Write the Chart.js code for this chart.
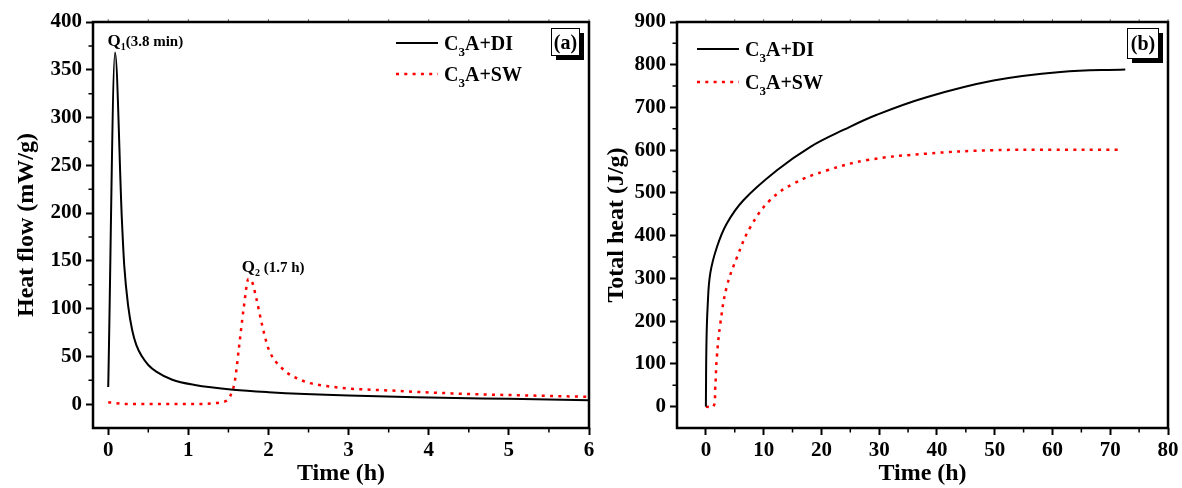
<!DOCTYPE html>
<html>
<head>
<meta charset="utf-8">
<script src="https://cdn.jsdelivr.net/npm/chart.js@4.4.1/dist/chart.umd.min.js"></script>
<style>
  body { margin: 0; background: #fff; width: 1182px; height: 488px; overflow: hidden; position: relative; }
  canvas { position: absolute; top: 0; }
  #chartA { left: 0; }
  #chartB { left: 590px; }
</style>
</head>
<body>
<canvas id="chartA" width="610" height="488"></canvas>
<canvas id="chartB" width="592" height="488"></canvas>
<script>
// panel (a): heat flow (mW/g) against time (h)
const flowTimeDI = [0, 0.085, 0.17, 0.2, 0.25, 0.3, 0.35, 0.42, 0.5, 0.6, 0.8, 1.08, 1.56, 2.0, 3.0, 4.0, 5.0, 6.0];
const flowDI     = [18, 368, 194, 145, 102, 77, 62, 50, 41, 34, 25.5, 20, 15, 12.5, 9, 7, 5.5, 4];
const flowTimeSW = [0, 0.25, 1.0, 1.42, 1.52, 1.58, 1.63, 1.69, 1.75, 1.79, 1.85, 1.92, 2.0, 2.17, 2.41, 2.77, 3.6, 4.43, 5.26, 6.0];
const flowSW     = [2, 0, 0, 2, 8, 24, 58, 100, 131, 129, 110, 83, 58, 37.5, 25, 18.4, 13.9, 10.8, 9, 7.6];

// panel (b): total heat (J/g) against time (h)
const heatTimeDI = [0, 0.1, 0.3, 0.75, 1.9, 3.6, 6.5, 12.3, 18.1, 23.9, 29.6, 38.2, 49.8, 61.4, 72.6];
const heatDI     = [0, 150, 233, 311, 373, 428, 483, 553, 608, 648, 683, 724, 763, 783, 789];
const heatTimeSW = [0, 1.3, 1.6, 1.9, 2.5, 3.6, 5.4, 7.7, 11.1, 15.2, 21, 28, 38.2, 49.8, 60, 71.4];
const heatSW     = [0, 0, 40, 116, 194, 280, 350, 420, 483, 522, 553, 577, 592, 600, 601, 601];

// ticks
const xTicksA = [0, 1, 2, 3, 4, 5, 6];
const xMinorA = [0.5, 1.5, 2.5, 3.5, 4.5, 5.5];
const yTicksA = [0, 50, 100, 150, 200, 250, 300, 350, 400];
const yMinorA = [25, 75, 125, 175, 225, 275, 325, 375];
const xTicksB = [0, 10, 20, 30, 40, 50, 60, 70, 80];
const xMinorB = [5, 15, 25, 35, 45, 55, 65, 75];
const yTicksB = [0, 100, 200, 300, 400, 500, 600, 700, 800, 900];
const yMinorB = [50, 150, 250, 350, 450, 550, 650, 750, 850];

const seriesNames = ['C3A+DI', 'C3A+SW'];

const SERIF = "'Liberation Serif', 'Times New Roman', serif";
const pts = (xs, ys) => xs.map((x, i) => ({ x, y: ys[i] }));

// draw text with a subscript, e.g. C3A
function subText(ctx, x, y, parts) {
  parts.forEach(([txt, size, dy]) => {
    ctx.font = `bold ${size}px ${SERIF}`;
    ctx.fillText(txt, x, y + dy);
    x += ctx.measureText(txt).width;
  });
}

const deco = {
  id: 'deco',
  afterDraw(chart, args, o) {
    const { ctx, chartArea: a, scales: { x, y } } = chart;
    ctx.save();
    ctx.strokeStyle = '#000';
    ctx.fillStyle = '#000';

    // minor ticks outside bottom / left, small ticks on top
    ctx.lineWidth = 1.5;
    ctx.beginPath();
    o.xMinor.forEach(v => {
      const p = x.getPixelForValue(v);
      ctx.moveTo(p, a.bottom); ctx.lineTo(p, a.bottom + 4.5);
    });
    o.yMinor.forEach(v => {
      const p = y.getPixelForValue(v);
      ctx.moveTo(a.left, p); ctx.lineTo(a.left - 4.5, p);
    });
    ctx.stroke();
    ctx.strokeStyle = '#777';
    ctx.lineWidth = 1;
    ctx.beginPath();
    o.xMinor.concat(o.xMajor).forEach(v => {
      const p = x.getPixelForValue(v);
      ctx.moveTo(p, a.top); ctx.lineTo(p, a.top - 3);
    });
    ctx.stroke();

    // frame
    ctx.strokeStyle = '#000';
    ctx.lineWidth = 2.5;
    ctx.strokeRect(a.left, a.top, a.right - a.left, a.bottom - a.top);

    // legend
    ctx.textBaseline = 'alphabetic';
    ctx.textAlign = 'left';
    o.legend.rows.forEach((r, i) => {
      const ly = o.legend.y + i * o.legend.gap;
      ctx.save();
      ctx.lineWidth = i === 0 ? 2 : 2.5;
      ctx.strokeStyle = i === 0 ? '#000' : '#ff0000';
      ctx.setLineDash(i === 0 ? [] : [3, 5.3]);
      ctx.beginPath();
      ctx.moveTo(o.legend.x, ly);
      ctx.lineTo(o.legend.x + 42, ly);
      ctx.stroke();
      ctx.restore();
      ctx.fillStyle = '#000';
      subText(ctx, o.legend.x + 48, ly + 7, [['C', 20, 0], ['3', 13, 6], [r, 20, 0]]);
    });

    // panel label box with shadow
    const bx = a.right - o.box.dr, by = a.top + 6;
    ctx.fillStyle = '#000';
    ctx.fillRect(bx + 5, by + 5, o.box.w, o.box.h);
    ctx.fillStyle = '#fff';
    ctx.fillRect(bx, by, o.box.w, o.box.h);
    ctx.lineWidth = 1;
    ctx.strokeStyle = '#000';
    ctx.strokeRect(bx + 0.5, by + 0.5, o.box.w, o.box.h);
    ctx.fillStyle = '#000';
    ctx.font = `bold 20px ${SERIF}`;
    ctx.textAlign = 'center';
    ctx.fillText(o.box.text, bx + o.box.w / 2 + 0.5, by + o.box.h / 2 + 7);

    // peak notes
    ctx.textAlign = 'left';
    (o.notes || []).forEach(n => {
      subText(ctx, x.getPixelForValue(n.x), y.getPixelForValue(n.y),
        [['Q', 17, 0], [n.sub, 10, 4], [n.text, 15, 0]]);
    });
    ctx.restore();
  }
};

function axis(min, max, ticks, title, isX, titlePad, fitSize) {
  return {
    type: 'linear',
    min, max,
    afterBuildTicks: s => { s.ticks = ticks.map(v => ({ value: v })); },
    afterFit: s => { if (isX) s.height = fitSize; else s.width = fitSize; },
    grid: { display: true, drawOnChartArea: false, drawTicks: true, tickLength: 7, tickWidth: 2, tickColor: '#000', color: '#000' },
    border: { display: false },
    ticks: { color: '#000', padding: isX ? 3 : 4, autoSkip: false, maxRotation: 0,
             font: { family: SERIF, size: 21, weight: 'bold' } },
    title: { display: true, text: title, color: '#000', padding: titlePad,
             font: { family: SERIF, size: 24, weight: 'bold' } }
  };
}

function lineSet(label, data, dotted, mode) {
  return {
    label, data,
    borderColor: dotted ? '#ff0000' : '#000',
    borderWidth: dotted ? 2.5 : 2,
    borderDash: dotted ? [3, 5.3] : [],
    borderCapStyle: 'butt',
    pointRadius: 0,
    fill: false,
    cubicInterpolationMode: mode,
    tension: 0.4
  };
}

new Chart(document.getElementById('chartA'), {
  type: 'line',
  data: { datasets: [
    lineSet(seriesNames[0], pts(flowTimeDI, flowDI), false, 'monotone'),
    lineSet(seriesNames[1], pts(flowTimeSW, flowSW), true, 'monotone')
  ] },
  options: {
    responsive: false, animation: false,
    layout: { padding: { top: 22, right: 21, bottom: 0, left: 0 } },
    plugins: {
      legend: { display: false }, tooltip: { enabled: false },
      deco: {
        xMajor: xTicksA, xMinor: xMinorA, yMinor: yMinorA,
        legend: { x: 396, y: 43, gap: 31, rows: ['A+DI', 'A+SW'] },
        box: { text: '(a)', dr: 38, w: 28, h: 27 },
        notes: [
          { x: -0.01, y: 375, sub: '1', text: '(3.8 min)' },
          { x: 1.667, y: 138, sub: '2', text: ' (1.7 h)' }
        ]
      }
    },
    scales: {
      x: axis(-0.19, 6, xTicksA, 'Time (h)', true, { top: 0, bottom: 0 }, 60),
      y: axis(-25, 400, yTicksA, 'Heat flow (mW/g)', false, { top: 12, bottom: 0 }, 93)
    }
  },
  plugins: [deco]
});

new Chart(document.getElementById('chartB'), {
  type: 'line',
  data: { datasets: [
    lineSet(seriesNames[0], pts(heatTimeDI, heatDI), false, 'default'),
    lineSet(seriesNames[1], pts(heatTimeSW, heatSW), true, 'default')
  ] },
  options: {
    responsive: false, animation: false,
    layout: { padding: { top: 22, right: 14, bottom: 0, left: 0 } },
    plugins: {
      legend: { display: false }, tooltip: { enabled: false },
      deco: {
        xMajor: xTicksB, xMinor: xMinorB, yMinor: yMinorB,
        legend: { x: 107, y: 49, gap: 33, rows: ['A+DI', 'A+SW'] },
        box: { text: '(b)', dr: 41, w: 31, h: 30 },
        notes: []
      }
    },
    scales: {
      x: axis(-5, 80, xTicksB, 'Time (h)', true, { top: 0, bottom: 0 }, 60),
      y: axis(-50, 900, yTicksB, 'Total heat (J/g)', false, { top: 12, bottom: 0 }, 87)
    }
  },
  plugins: [deco]
});
</script>
</body>
</html>
